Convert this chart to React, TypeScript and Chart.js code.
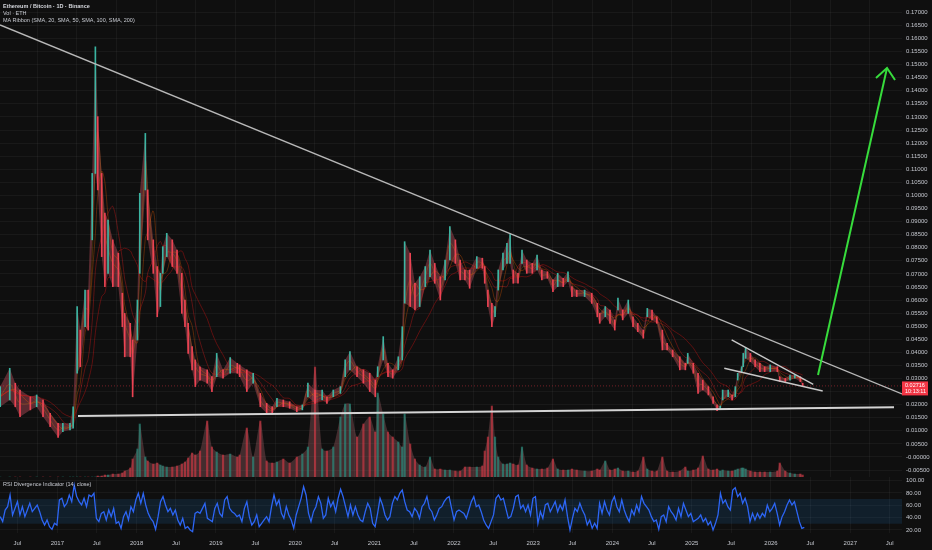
import React, { useEffect, useRef } from "react";
import { Chart, registerables } from "chart.js";

Chart.register(...registerables);

// ---------------- data ----------------
const dates = [
  2016.28, 2016.40, 2016.47, 2016.53, 2016.66, 2016.74, 2016.82, 2016.91, 2017.01, 2017.07,
  2017.16, 2017.20, 2017.25, 2017.29, 2017.35, 2017.39, 2017.44, 2017.48, 2017.51, 2017.56,
  2017.60, 2017.64, 2017.70, 2017.77, 2017.82, 2017.85, 2017.92, 2017.95, 2018.01, 2018.04,
  2018.11, 2018.14, 2018.21, 2018.26, 2018.30, 2018.33, 2018.38, 2018.45, 2018.51, 2018.57,
  2018.61, 2018.65, 2018.70, 2018.74, 2018.80, 2018.89, 2018.95, 2019.01, 2019.09, 2019.18,
  2019.27, 2019.30, 2019.39, 2019.47, 2019.56, 2019.64, 2019.71, 2019.77, 2019.85, 2019.93,
  2020.02, 2020.09, 2020.16, 2020.25, 2020.34, 2020.40, 2020.48, 2020.57, 2020.63, 2020.69,
  2020.78, 2020.86, 2020.94, 2021.01, 2021.04, 2021.11, 2021.17, 2021.23, 2021.30, 2021.35,
  2021.38, 2021.45, 2021.51, 2021.57, 2021.64, 2021.70, 2021.76, 2021.83, 2021.89, 2021.95,
  2022.02, 2022.08, 2022.14, 2022.20, 2022.29, 2022.36, 2022.39, 2022.43, 2022.48, 2022.52,
  2022.56, 2022.62, 2022.67, 2022.71, 2022.75, 2022.81, 2022.86, 2022.92, 2022.99, 2023.05,
  2023.11, 2023.18, 2023.25, 2023.31, 2023.38, 2023.44, 2023.49, 2023.55, 2023.65, 2023.74,
  2023.81, 2023.84, 2023.91, 2023.97, 2024.03, 2024.07, 2024.13, 2024.20, 2024.26, 2024.32,
  2024.39, 2024.44, 2024.50, 2024.56, 2024.63, 2024.69, 2024.76, 2024.85, 2024.92, 2024.95,
  2025.02, 2025.08, 2025.14, 2025.21, 2025.27, 2025.32, 2025.36, 2025.39, 2025.46, 2025.51,
  2025.55, 2025.58, 2025.63, 2025.65, 2025.68, 2025.74, 2025.80, 2025.86, 2025.92, 2025.99,
  2026.08, 2026.11, 2026.18, 2026.24, 2026.30, 2026.37, 2026.40,
];

const highs = [
  0.0269, 0.0339, 0.0282, 0.0256, 0.0230, 0.0237, 0.0218, 0.0167, 0.0129, 0.0129,
  0.0129, 0.0192, 0.0575, 0.0485, 0.0638, 0.0638, 0.1084, 0.1568, 0.1301, 0.1084,
  0.0932, 0.0906, 0.0830, 0.0779, 0.0626, 0.0549, 0.0511, 0.0447, 0.0600, 0.1008,
  0.1237, 0.1021, 0.0830, 0.0728, 0.0702, 0.0804, 0.0855, 0.0830, 0.0791, 0.0702,
  0.0600, 0.0511, 0.0422, 0.0371, 0.0345, 0.0333, 0.0307, 0.0396, 0.0333, 0.0380,
  0.0358, 0.0352, 0.0333, 0.0320, 0.0243, 0.0205, 0.0192, 0.0224, 0.0218, 0.0211,
  0.0192, 0.0199, 0.0282, 0.0256, 0.0256, 0.0230, 0.0256, 0.0269, 0.0371, 0.0403,
  0.0345, 0.0333, 0.0320, 0.0294, 0.0345, 0.0460, 0.0358, 0.0333, 0.0383, 0.0498,
  0.0823, 0.0779, 0.0664, 0.0689, 0.0728, 0.0791, 0.0740, 0.0689, 0.0753, 0.0881,
  0.0830, 0.0753, 0.0715, 0.0715, 0.0766, 0.0760, 0.0728, 0.0638, 0.0587, 0.0575,
  0.0715, 0.0779, 0.0817, 0.0852, 0.0715, 0.0702, 0.0791, 0.0753, 0.0740, 0.0772,
  0.0715, 0.0708, 0.0677, 0.0702, 0.0683, 0.0708, 0.0651, 0.0638, 0.0638, 0.0626,
  0.0587, 0.0549, 0.0575, 0.0562, 0.0524, 0.0607, 0.0562, 0.0600, 0.0536, 0.0511,
  0.0485, 0.0568, 0.0562, 0.0536, 0.0485, 0.0434, 0.0409, 0.0383, 0.0358, 0.0396,
  0.0358, 0.0320, 0.0294, 0.0269, 0.0230, 0.0199, 0.0195, 0.0256, 0.0256, 0.0237,
  0.0269, 0.0320, 0.0345, 0.0396, 0.0419, 0.0396, 0.0371, 0.0358, 0.0345, 0.0352,
  0.0345, 0.0307, 0.0301, 0.0313, 0.0313, 0.0307, 0.0282,
];

const lows = [
  0.0192, 0.0218, 0.0192, 0.0154, 0.0180, 0.0192, 0.0154, 0.0116, 0.0075, 0.0097,
  0.0103, 0.0110, 0.0320, 0.0345, 0.0498, 0.0485, 0.0830, 0.1084, 0.1021, 0.0766,
  0.0651, 0.0702, 0.0651, 0.0651, 0.0498, 0.0383, 0.0383, 0.0230, 0.0447, 0.0702,
  0.1021, 0.0830, 0.0702, 0.0536, 0.0575, 0.0702, 0.0766, 0.0728, 0.0702, 0.0549,
  0.0498, 0.0396, 0.0333, 0.0269, 0.0294, 0.0282, 0.0250, 0.0307, 0.0301, 0.0320,
  0.0320, 0.0307, 0.0250, 0.0282, 0.0192, 0.0167, 0.0164, 0.0192, 0.0192, 0.0186,
  0.0173, 0.0180, 0.0230, 0.0205, 0.0218, 0.0205, 0.0230, 0.0243, 0.0307, 0.0333,
  0.0307, 0.0282, 0.0250, 0.0230, 0.0307, 0.0371, 0.0307, 0.0301, 0.0333, 0.0371,
  0.0588, 0.0575, 0.0562, 0.0575, 0.0651, 0.0689, 0.0664, 0.0600, 0.0677, 0.0753,
  0.0740, 0.0677, 0.0677, 0.0645, 0.0721, 0.0721, 0.0664, 0.0575, 0.0498, 0.0536,
  0.0638, 0.0715, 0.0740, 0.0740, 0.0664, 0.0664, 0.0740, 0.0702, 0.0702, 0.0715,
  0.0677, 0.0683, 0.0632, 0.0651, 0.0651, 0.0670, 0.0613, 0.0613, 0.0613, 0.0587,
  0.0536, 0.0511, 0.0536, 0.0511, 0.0485, 0.0562, 0.0524, 0.0549, 0.0498, 0.0479,
  0.0454, 0.0536, 0.0524, 0.0511, 0.0409, 0.0409, 0.0383, 0.0333, 0.0333, 0.0358,
  0.0320, 0.0243, 0.0256, 0.0237, 0.0205, 0.0177, 0.0182, 0.0218, 0.0230, 0.0218,
  0.0230, 0.0294, 0.0326, 0.0345, 0.0377, 0.0364, 0.0345, 0.0326, 0.0326, 0.0326,
  0.0326, 0.0288, 0.0288, 0.0294, 0.0301, 0.0288, 0.0271,
];

// volume (thousand ETH, relative)
const volumes = [
  0, 0, 0, 0, 0, 0, 0, 0, 0, 0,
  0, 0, 0, 0, 0, 0, 0, 0, 1, 1,
  2, 2, 3, 3, 4, 6, 9, 18, 28, 53,
  20, 16, 13, 14, 12, 11, 10, 10, 11, 13,
  15, 19, 24, 22, 26, 56, 30, 25, 22, 23,
  20, 22, 49, 20, 56, 16, 14, 15, 18, 14,
  20, 23, 30, 110, 28, 26, 30, 60, 73, 73,
  40, 53, 60, 45, 84, 63, 45, 40, 35, 30,
  63, 33, 18, 12, 10, 20, 8, 8, 7, 7,
  6, 6, 10, 10, 10, 11, 26, 40, 71, 40,
  20, 13, 13, 14, 13, 12, 30, 12, 9, 8,
  8, 9, 18, 8, 7, 7, 8, 7, 6, 6,
  8, 7, 16, 7, 8, 9, 6, 6, 5, 6,
  20, 8, 6, 6, 20, 6, 5, 6, 10, 6,
  7, 9, 21, 8, 7, 8, 6, 7, 6, 6,
  7, 8, 9, 9, 8, 6, 5, 5, 5, 5,
  6, 14, 6, 4, 3, 3, 2,
];

// RSI(14) readings, evenly spaced from rsiStart to rsiEnd
const rsiValues = [
  41.6, 33.5, 52.3, 57.7, 76.6, 44.3, 55.0, 65.8, 44.3, 57.7,
  41.6, 52.3, 63.1, 49.6, 55.0, 60.4, 49.6, 36.2, 28.1, 36.2,
  25.4, 21.1, 30.8, 28.1, 68.5, 71.2, 57.7, 63.1, 76.6, 65.8,
  92.7, 73.9, 65.8, 60.4, 71.2, 57.7, 76.6, 73.9, 79.3, 38.9,
  33.5, 46.9, 49.6, 36.2, 52.3, 41.6, 55.0, 30.8, 33.5, 22.7,
  41.6, 49.6, 36.2, 57.7, 49.6, 68.5, 79.3, 63.1, 79.3, 60.4,
  46.9, 38.9, 33.5, 21.1, 41.6, 65.8, 73.9, 60.4, 49.6, 55.0,
  44.3, 52.3, 36.2, 28.1, 38.9, 22.7, 25.4, 20.0, 17.3, 46.9,
  49.6, 46.9, 55.0, 63.1, 38.9, 36.2, 33.5, 55.0, 63.1, 46.9,
  41.6, 68.5, 73.9, 55.0, 49.6, 46.9, 41.6, 44.3, 33.5, 55.0,
  65.8, 41.6, 28.1, 33.5, 44.3, 25.4, 30.8, 36.2, 41.6, 33.5,
  57.7, 76.6, 60.4, 68.5, 46.9, 38.9, 57.7, 44.3, 36.2, 22.7,
  44.3, 57.7, 71.2, 90.0, 76.6, 46.9, 33.5, 49.6, 57.7, 73.9,
  63.1, 38.9, 44.3, 71.2, 57.7, 65.8, 49.6, 71.2, 85.7, 73.9,
  57.7, 41.6, 60.4, 44.3, 57.7, 44.3, 36.2, 33.5, 49.6, 63.1,
  55.0, 30.8, 25.4, 46.9, 71.2, 60.4, 44.3, 36.2, 41.6, 63.1,
  73.9, 68.5, 79.3, 84.6, 65.8, 52.3, 49.6, 41.6, 55.0, 49.6,
  38.9, 57.7, 63.1, 73.9, 55.0, 49.6, 36.2, 44.3, 55.0, 57.7,
  65.8, 71.2, 73.9, 55.0, 36.2, 49.6,
  52.3, 49.6, 46.9, 38.9, 52.3, 65.8, 73.9, 57.7, 60.4, 49.6,
  36.2, 28.1, 22.7, 33.5, 44.3, 71.2, 76.6, 68.5, 71.2, 55.0,
  38.9, 41.6, 55.0, 73.9, 76.6, 55.0, 60.4, 49.6, 60.4, 44.3,
  71.2, 73.9, 30.8, 49.6, 38.9, 60.4, 63.1, 49.6, 57.7, 65.8,
  49.6, 60.4, 52.3, 68.5, 41.6, 20.0, 38.9, 55.0, 49.6, 63.1,
  52.3, 44.3, 28.1, 36.2, 22.7, 30.8, 22.7, 63.1, 46.9, 65.8,
  52.3, 44.3, 65.8, 73.9, 57.7, 49.6, 68.5, 52.3, 41.6, 33.5,
  52.3, 44.3, 60.4, 49.6, 73.9, 63.1, 57.7, 52.3, 41.6, 33.5,
  36.2, 21.1, 41.6, 44.3, 33.5, 57.7, 49.6, 44.3, 36.2, 55.0,
  41.6, 63.1, 52.3, 41.6, 46.9, 33.5, 36.2, 38.9, 44.3, 33.5,
  38.9, 28.1, 33.5, 20.0, 30.8, 44.3, 79.3, 63.1, 68.5, 57.7,
  52.3, 84.6, 88.4, 73.9, 79.3, 63.1, 71.2, 57.7, 33.5, 46.9,
  36.2, 46.9, 38.9, 46.9, 41.6, 60.4, 49.6, 55.0, 63.1, 46.9,
  28.1, 41.6, 49.6, 60.4, 68.5, 60.4, 65.8, 49.6, 33.5, 22.7,
  24.3,
];
const rsiStart = 2016.28;
const rsiEnd = 2026.42;

const lastPrice = 0.02716;
const lastPriceText = "0.02716";
const countdownText = "10:13:11";

const priceTicks = [
  -0.005, 0, 0.005, 0.01, 0.015, 0.02, 0.025, 0.03, 0.035, 0.04, 0.045, 0.05,
  0.055, 0.06, 0.065, 0.07, 0.075, 0.08, 0.085, 0.09, 0.095, 0.1, 0.105, 0.11,
  0.115, 0.12, 0.125, 0.13, 0.135, 0.14, 0.145, 0.15, 0.155, 0.16, 0.165, 0.17,
];
const rsiTicks = [20, 40, 60, 80, 100];
const timeTicks = [
  2016.496, 2017, 2017.496, 2018, 2018.496, 2019, 2019.496, 2020, 2020.497, 2021,
  2021.496, 2022, 2022.496, 2023, 2023.496, 2024, 2024.497, 2025, 2025.496, 2026,
  2026.496, 2027, 2027.496,
];
const timeTickLabels = [
  "Jul", "2017", "Jul", "2018", "Jul", "2019", "Jul", "2020", "Jul", "2021",
  "Jul", "2022", "Jul", "2023", "Jul", "2024", "Jul", "2025", "Jul", "2026",
  "Jul", "2027", "Jul",
];
const maPeriods = [20, 50, 100, 200];

// drawings (time, price)
const upperTrend = [{ x: 2016.2774, y: 0.16514 }, { x: 2027.652, y: 0.02411 }];
const supportLine = [{ x: 2017.261, y: 0.01567 }, { x: 2027.551, y: 0.01899 }];
const wedgeUpper = [{ x: 2025.504, y: 0.04472 }, { x: 2026.533, y: 0.02778 }];
const wedgeLower = [{ x: 2025.411, y: 0.0339 }, { x: 2026.652, y: 0.02522 }];
const arrowShaft = [{ x: 2026.593, y: 0.03134 }, { x: 2027.463, y: 0.1487 }];
const arrowHead = [{ x: 2027.324, y: 0.14488 }, { x: 2027.463, y: 0.1487 }, { x: 2027.564, y: 0.14412 }];

// axis ranges
const xMin = 2016.2774;
const xMax = 2027.652;
const yMin = -0.00766;
const yMax = 0.1747;
const rsiMin = 15.15;
const rsiMax = 105.65;
const volMax = 477;

// ---------------- styles ----------------
const BG = "#0f0f0f";
const GRID = "rgba(255,255,255,0.045)";
const TICK = "#c4c7ce";
const FONT = '"Liberation Sans", Arial, sans-serif';
const UP = "rgba(60,190,170,0.95)";
const DOWN = "rgba(245,70,85,0.95)";
const VOL_UP = "rgba(34,168,148,0.55)";
const VOL_DOWN = "rgba(240,58,72,0.55)";
const MA_COLORS = ["rgba(251,152,0,0.22)", "rgba(251,101,0,0.3)", "rgba(242,30,30,0.33)", "rgba(200,20,20,0.42)"];

const fmtPrice = (v: number) => (Math.abs(v) < 1e-9 ? "-0.00000" : v.toFixed(5));

export default function App() {
  const mainRef = useRef<HTMLCanvasElement | null>(null);
  const rsiRef = useRef<HTMLCanvasElement | null>(null);

  useEffect(() => {
    document.body.style.margin = "0";
    document.body.style.background = BG;
    Chart.defaults.font.family = FONT;

    const mids = highs.map((h, i) => (h + lows[i]) / 2);
    const up = mids.map((m, i) => (i === 0 ? true : m >= mids[i - 1]));
    const candleColors = up.map((u) => (u ? UP : DOWN));
    const volColors = up.map((u) => (u ? VOL_UP : VOL_DOWN));

    const sma = (days: number) =>
      dates.map((t, i) => {
        const w = days / 365.25;
        let s = 0;
        let n = 0;
        for (let j = i; j >= 0 && dates[j] > t - w - 1e-6; j--) {
          s += mids[j];
          n++;
        }
        return { x: t, y: s / n };
      });

    const line = (data: any, color: string, width: number, order: number, extra: any = {}) => ({
      type: "line",
      data,
      borderColor: color,
      borderWidth: width,
      pointRadius: 0,
      fill: false,
      tension: 0,
      order,
      ...extra,
    });

    const priceLabelPlugin = {
      id: "priceLabel",
      afterDraw(chart: any) {
        const { ctx, chartArea } = chart;
        const y = chart.scales.y.getPixelForValue(lastPrice);
        ctx.save();
        ctx.fillStyle = "#f23645";
        ctx.fillRect(chartArea.right, y - 4.5, 26, 14);
        ctx.fillStyle = "#ffffff";
        ctx.font = `5.5px ${FONT}`;
        ctx.textBaseline = "middle";
        ctx.textAlign = "left";
        ctx.fillText(lastPriceText, chartArea.right + 3, y - 0.5);
        ctx.fillText(countdownText, chartArea.right + 3, y + 5.8);
        ctx.restore();
      },
    };

    const xScaleBase = {
      type: "linear",
      min: xMin,
      max: xMax,
      offset: false,
      grid: { color: GRID, drawTicks: false },
      border: { display: false },
      afterBuildTicks: (s: any) => {
        s.ticks = timeTicks.map((v) => ({ value: v }));
      },
    };

    const mainChart = new Chart(mainRef.current as HTMLCanvasElement, {
      type: "line",
      data: {
        datasets: [
          line(dates.map((t, i) => ({ x: t, y: volumes[i] })), "transparent", 0, 22, {
            yAxisID: "yv",
            fill: "origin",
            tension: 0.25,
            backgroundColor: "rgba(140,85,90,0.42)",
          }),
          {
            type: "bar",
            yAxisID: "yv",
            data: dates.map((t, i) => ({ x: t, y: volumes[i] })),
            backgroundColor: volColors,
            barThickness: 1.5,
            grouped: false,
            borderWidth: 0,
            order: 20,
          },
          line(dates.map((t, i) => ({ x: t, y: highs[i] })), "transparent", 0, 15, {
            fill: "+1",
            backgroundColor: "rgba(195,80,95,0.42)",
          }),
          line(dates.map((t, i) => ({ x: t, y: lows[i] })), "transparent", 0, 15),
          ...maPeriods.map((p, k) => line(sma(p), MA_COLORS[k], 1, 12 - k, { tension: 0.35 })),
          {
            type: "bar",
            data: dates.map((t, i) => ({ x: t, y: [lows[i], highs[i]] })),
            backgroundColor: candleColors,
            barThickness: 1,
            grouped: false,
            borderWidth: 0,
            minBarLength: 1,
            order: 6,
          },
          line([{ x: xMin, y: lastPrice }, { x: xMax, y: lastPrice }], "rgba(242,54,69,0.45)", 1, 5, {
            borderDash: [1, 2],
          }),
          line(upperTrend, "#b8b8b8", 1.4, 3),
          line(supportLine, "#d4d4d4", 2, 3),
          line(wedgeUpper, "#c8c8c8", 1.4, 3),
          line(wedgeLower, "#c8c8c8", 1.4, 3),
          line(arrowShaft, "#37dc3c", 2, 1),
          line(arrowHead, "#37dc3c", 2, 1),
        ] as any,
      },
      options: {
        responsive: false,
        animation: false,
        events: [],
        layout: { autoPadding: false, padding: 0 },
        plugins: { legend: { display: false }, tooltip: { enabled: false } },
        scales: {
          x: {
            ...xScaleBase,
            ticks: { display: false },
            afterFit: (s: any) => {
              s.height = 0;
              s.paddingLeft = 0;
              s.paddingRight = 0;
            },
          },
          y: {
            type: "linear",
            position: "right",
            min: yMin,
            max: yMax,
            grid: { color: GRID, drawTicks: false },
            border: { display: false },
            ticks: {
              color: TICK,
              font: { size: 6 },
              padding: 4,
              crossAlign: "near",
              autoSkip: false,
              callback: (v: any) => fmtPrice(Number(v)),
            },
            afterBuildTicks: (s: any) => {
              s.ticks = priceTicks.map((v) => ({ value: v }));
            },
            afterFit: (s: any) => {
              s.width = 30;
              s.paddingTop = 0;
              s.paddingBottom = 0;
            },
          },
          yv: { type: "linear", display: false, min: 0, max: volMax },
        },
      } as any,
      plugins: [priceLabelPlugin],
    } as any);

    const rsiChart = new Chart(rsiRef.current as HTMLCanvasElement, {
      type: "line",
      data: {
        datasets: [
          line([{ x: xMin, y: 70 }, { x: xMax, y: 70 }], "transparent", 0, 5, {
            fill: "+1",
            backgroundColor: "rgba(33,150,243,0.12)",
          }),
          line([{ x: xMin, y: 30 }, { x: xMax, y: 30 }], "transparent", 0, 5),
          line(
            rsiValues.map((v, i) => ({ x: rsiStart + (i * (rsiEnd - rsiStart)) / (rsiValues.length - 1), y: v })),
            "#2d66f5",
            1.3,
            1
          ),
        ] as any,
      },
      options: {
        responsive: false,
        animation: false,
        events: [],
        layout: { autoPadding: false, padding: 0 },
        plugins: { legend: { display: false }, tooltip: { enabled: false } },
        scales: {
          x: {
            ...xScaleBase,
            ticks: {
              color: TICK,
              font: { size: 6 },
              padding: 7,
              maxRotation: 0,
              autoSkip: false,
              callback: (_v: any, i: number) => timeTickLabels[i],
            },
            afterFit: (s: any) => {
              s.height = 17;
              s.paddingLeft = 0;
              s.paddingRight = 0;
            },
          },
          y: {
            type: "linear",
            position: "right",
            min: rsiMin,
            max: rsiMax,
            grid: { color: GRID, drawTicks: false },
            border: { display: false },
            ticks: {
              color: TICK,
              font: { size: 6 },
              padding: 4,
              crossAlign: "near",
              autoSkip: false,
              callback: (v: any) => Number(v).toFixed(2),
            },
            afterBuildTicks: (s: any) => {
              s.ticks = rsiTicks.map((v) => ({ value: v }));
            },
            afterFit: (s: any) => {
              s.width = 30;
              s.paddingTop = 0;
              s.paddingBottom = 0;
            },
          },
        },
      } as any,
    } as any);

    return () => {
      mainChart.destroy();
      rsiChart.destroy();
    };
  }, []);

  const legendStyle: React.CSSProperties = {
    position: "absolute",
    left: 3,
    fontSize: 5.5,
    lineHeight: "7px",
    color: "#c8cbd2",
    whiteSpace: "nowrap",
    fontFamily: FONT,
  };

  return (
    <div style={{ position: "relative", width: 932, height: 550, background: BG, overflow: "hidden" }}>
      <canvas ref={mainRef} width={932} height={477} style={{ position: "absolute", left: 0, top: 0 }} />
      <canvas ref={rsiRef} width={932} height={73} style={{ position: "absolute", left: 0, top: 477 }} />
      <div style={{ ...legendStyle, top: 2.5, fontWeight: 600, color: "#d6d8de" }}>Ethereum / Bitcoin · 1D · Binance</div>
      <div style={{ ...legendStyle, top: 10 }}>Vol · ETH</div>
      <div style={{ ...legendStyle, top: 17 }}>MA Ribbon (SMA, 20, SMA, 50, SMA, 100, SMA, 200)</div>
      <div style={{ ...legendStyle, top: 480.5 }}>RSI Divergence Indicator (14, close)</div>
    </div>
  );
}
